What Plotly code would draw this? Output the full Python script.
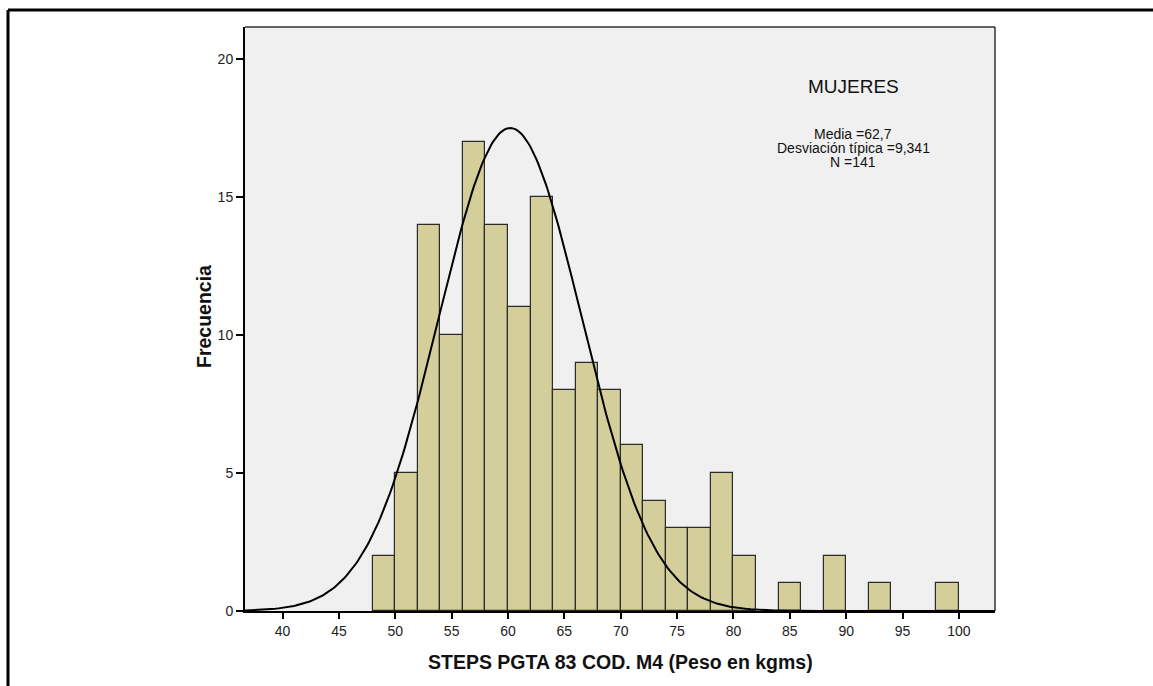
import numpy as np
import plotly.graph_objects as go

# Histogram data (bin centers, width 2 kg)
bin_centers = [49, 51, 53, 55, 57, 59, 61, 63, 65, 67, 69, 71, 73, 75, 77, 79, 81, 85, 89, 93, 99]
counts = [2, 5, 14, 10, 17, 14, 11, 15, 8, 9, 8, 6, 4, 3, 3, 5, 2, 1, 2, 1, 1]
bin_width = 2

# Normal curve as drawn in the reference
curve_mean = 60.2
curve_sd = 6.35
curve_peak = 17.5

x_ticks = [40, 45, 50, 55, 60, 65, 70, 75, 80, 85, 90, 95, 100]
y_ticks = [0, 5, 10, 15, 20]

title_text = "MUJERES"
stats_lines = ["Media =62,7", "Desviación típica =9,341", "N =141"]
x_title = "STEPS PGTA 83 COD. M4 (Peso en kgms)"
y_title = "Frecuencia"

W, H = 1153, 686
L, R, T, B = 245, 158, 27, 75
pw, ph = W - L - R, H - T - B

def px(xp):
    return (xp - L) / pw

def py(yp):
    return (H - B - yp) / ph

xr = [36.67, 103.2]
yr = [0, 21.16]

fig = go.Figure()
fig.add_trace(go.Bar(
    x=bin_centers, y=counts, width=bin_width,
    marker=dict(color="#D3CE9A", line=dict(color="#2b2b2b", width=1.2)),
    showlegend=False, hoverinfo="x+y",
))

xc = np.linspace(xr[0], xr[1], 400)
yc = curve_peak * np.exp(-0.5 * ((xc - curve_mean) / curve_sd) ** 2)
fig.add_trace(go.Scatter(x=xc, y=yc, mode="lines",
                         line=dict(color="black", width=2), showlegend=False,
                         hoverinfo="skip"))

font = "Liberation Sans, Arial, sans-serif"
fig.update_layout(
    width=W, height=H,
    margin=dict(l=L, r=R, t=T, b=B),
    paper_bgcolor="white", plot_bgcolor="#F0F0F0",
    bargap=0,
    font=dict(family=font, size=14, color="#222"),
    xaxis=dict(range=xr, tickvals=x_ticks, ticks="outside", ticklen=6,
               tickwidth=1.5, tickcolor="black", showgrid=False, zeroline=False,
               showline=True, linecolor="black", linewidth=2, mirror=False,
               tickfont=dict(size=14, color="#222", family=font)),
    yaxis=dict(range=yr, tickvals=y_ticks, ticks="outside", ticklen=7,
               tickwidth=1.5, tickcolor="black", showgrid=False, zeroline=False,
               showline=True, linecolor="black", linewidth=2, mirror=False,
               tickfont=dict(size=14, color="#222", family=font)),
    shapes=[
        # plot box top and right edges
        dict(type="line", xref="paper", yref="paper", x0=0, x1=1, y0=1, y1=1,
             line=dict(color="#333", width=1.5)),
        dict(type="line", xref="paper", yref="paper", x0=1, x1=1, y0=0, y1=1,
             line=dict(color="#333", width=1.5)),
        # outer frame (top and left)
        dict(type="line", xref="paper", yref="paper", x0=px(8), x1=px(1153),
             y0=py(10), y1=py(10), line=dict(color="black", width=3)),
        dict(type="line", xref="paper", yref="paper", x0=px(8), x1=px(8),
             y0=py(10), y1=py(686), line=dict(color="black", width=3)),
    ],
)

annos = [
    dict(x=px(853), y=py(86), text=title_text, font=dict(size=19, color="#111", family=font)),
    dict(x=px(853), y=py(134), text=stats_lines[0], font=dict(size=14, color="#111", family=font)),
    dict(x=px(853), y=py(148), text=stats_lines[1], font=dict(size=14, color="#111", family=font)),
    dict(x=px(853), y=py(162), text=stats_lines[2], font=dict(size=14, color="#111", family=font)),
    dict(x=px(620), y=py(662), text="<b>" + x_title + "</b>", font=dict(size=19.5, color="#111", family=font)),
    dict(x=px(204), y=py(317), text="<b>" + y_title + "</b>", textangle=-90,
         font=dict(size=19.5, color="#111", family=font)),
]
for a in annos:
    a.update(xref="paper", yref="paper", showarrow=False, xanchor="center", yanchor="middle")
    fig.add_annotation(**a)

fig.write_html("out.html")
